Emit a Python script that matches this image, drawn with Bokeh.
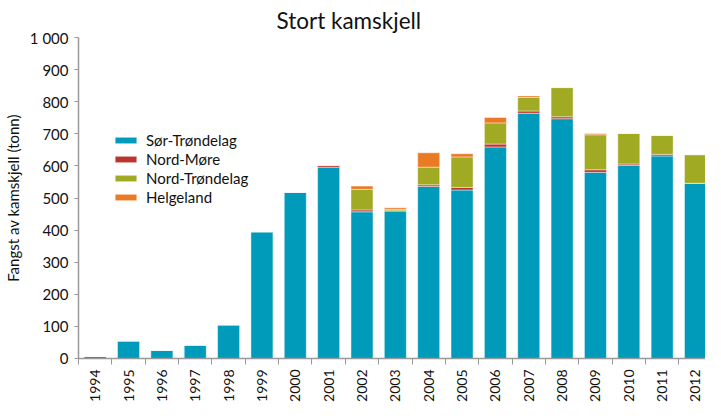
import math
from bokeh.plotting import figure
from bokeh.layouts import column
from bokeh.models import ColumnDataSource, Range1d, FixedTicker, Legend, LegendItem
from bokeh.core.properties import value
from bokeh.embed import file_html
from bokeh.resources import INLINE

years = [str(y) for y in range(1994, 2013)]
sor_trondelag = [7, 55, 26, 42, 105, 395, 518, 596, 457, 460, 536, 525, 659, 764, 747, 580, 602, 631, 546]
nord_more = [0, 0, 0, 0, 0, 0, 0, 6, 6, 0, 5, 8, 9, 7, 6, 8, 4, 5, 0]
nord_trondelag = [0, 0, 0, 0, 0, 0, 0, 0, 64, 5, 55, 95, 66, 42, 91, 109, 95, 59, 89]
helgeland = [0, 0, 0, 0, 0, 0, 0, 0, 10, 5, 45, 10, 17, 5, 0, 4, 0, 0, 0]
series_names = ["Sør-Trøndelag", "Nord-Møre", "Nord-Trøndelag", "Helgeland"]
colors = ["#009ABA", "#BE332B", "#A0AA23", "#EB7A25"]
y_ticks = list(range(0, 1001, 100))

FONT = "Lato"
W = 705
H1 = 366
H2 = 37

xc = [i + 0.5 for i in range(len(years))]
x_range = Range1d(0, 18.8)
src = ColumnDataSource(dict(x=xc, s=sor_trondelag, m=nord_more, t=nord_trondelag, h=helgeland))

p = figure(width=W, height=H1, output_backend="svg", toolbar_location=None,
           x_range=x_range, y_range=Range1d(0, 1000),
           min_border_left=72, min_border_right=0, min_border_top=36, min_border_bottom=8)

renderers = p.vbar_stack(["s", "m", "t", "h"], x="x", width=0.66, source=src, color=colors,
                         line_color="white", line_alpha=0.45, line_width=1)

p.title.text = "Stort kamskjell"
p.title.text_font = FONT
p.title.text_font_size = "22.5px"
p.title.text_font_style = "normal"
p.title.text_color = "#111111"
p.title.align = "left"
p.title.offset = 198
p.title.standoff = 8

p.xgrid.visible = False
p.ygrid.visible = False
p.outline_line_color = None

# x axis: only the line and the ticks between the years
p.xaxis.ticker = FixedTicker(ticks=[], minor_ticks=list(range(0, 20)))
p.xaxis.major_tick_out = 0
p.xaxis.major_tick_in = 0
p.xaxis.minor_tick_out = 6
p.xaxis.minor_tick_in = 0
p.xaxis.minor_tick_line_color = "#999999"
p.xaxis.axis_line_color = "#999999"
p.xaxis.axis_line_width = 1.5
p.xaxis.major_label_text_font_size = "0px"
p.xaxis.major_label_standoff = 0

# y axis
p.yaxis.ticker = FixedTicker(ticks=y_ticks, minor_ticks=[])
p.yaxis.major_label_overrides = {1000: "1 000"}
p.yaxis.major_tick_out = 4
p.yaxis.major_tick_in = 0
p.yaxis.major_tick_line_color = "#999999"
p.yaxis.axis_line_color = "#999999"
p.yaxis.axis_line_width = 1.5
p.yaxis.major_label_standoff = 6
p.yaxis.major_label_text_font = FONT
p.yaxis.major_label_text_font_size = "15px"
p.yaxis.major_label_text_color = "#111111"
p.yaxis.axis_label = "Fangst av kamskjell (tonn)"
p.yaxis.axis_label_text_font = FONT
p.yaxis.axis_label_text_font_size = "15px"
p.yaxis.axis_label_text_font_style = "normal"
p.yaxis.axis_label_text_color = "#111111"
p.yaxis.axis_label_standoff = 5

legend = Legend(items=[LegendItem(label=n, renderers=[r]) for n, r in zip(series_names, renderers)],
                location=(34, 152), padding=0, margin=0, spacing=1,
                glyph_width=27, glyph_height=8, label_height=18, label_standoff=7,
                label_text_font=FONT, label_text_font_size="15px", label_text_color="#111111",
                border_line_color=None, background_fill_alpha=0)
p.add_layout(legend, "center")

# strip below the chart holding the year labels (1 unit = 1 px vertically)
lab = ColumnDataSource(dict(x=xc, y=[H2 - 3] * len(years), year=years))
p2 = figure(width=W, height=H2, output_backend="svg", toolbar_location=None,
            x_range=x_range, y_range=Range1d(0, H2),
            min_border_left=72, min_border_right=0, min_border_top=0, min_border_bottom=0)
p2.axis.visible = False
p2.grid.visible = False
p2.outline_line_color = None
p2.text(x="x", y="y", text="year", source=lab, angle=math.pi / 2,
        text_align="right", text_baseline="middle",
        text_font=value(FONT), text_font_size="14px", text_color="#111111")

layout = column(p, p2, spacing=0)
open("out.html", "w").write(file_html(layout, INLINE))
